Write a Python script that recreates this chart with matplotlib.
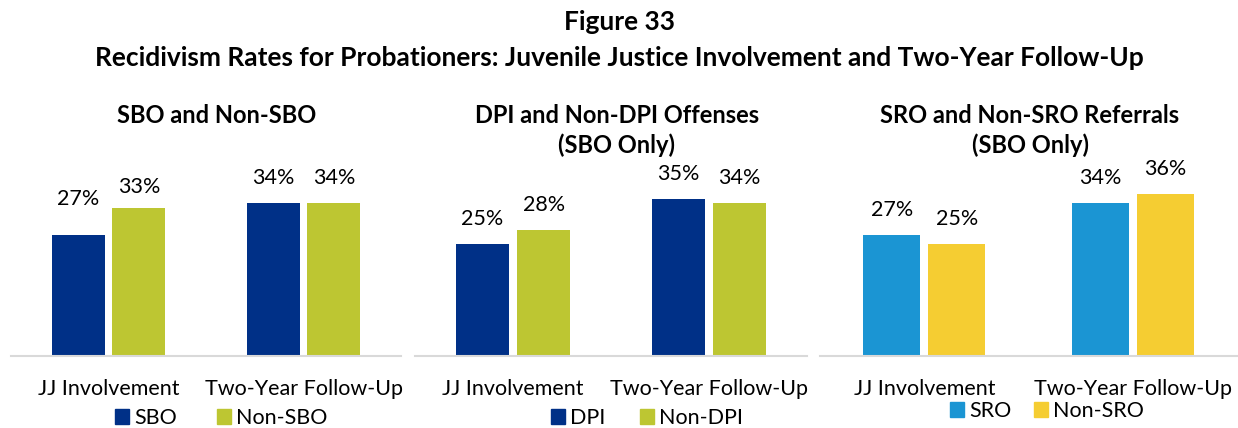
import numpy as np
import matplotlib
matplotlib.use("Agg")
import matplotlib.pyplot as plt
from matplotlib.patches import Patch

plt.rcParams['font.family'] = ['Lato', 'DejaVu Sans']

# Data
categories = ["JJ Involvement", "Two-Year Follow-Up"]

panel_titles = ["SBO and Non-SBO",
                "DPI and Non-DPI Offenses\n(SBO Only)",
                "SRO and Non-SRO Referrals\n(SBO Only)"]
series_names = [("SBO", "Non-SBO"), ("DPI", "Non-DPI"), ("SRO", "Non-SRO")]

sbo_vals = [27, 34]
non_sbo_vals = [33, 34]
dpi_vals = [25, 35]
non_dpi_vals = [28, 34]
sro_vals = [27, 34]
non_sro_vals = [25, 36]

values = [(sbo_vals, non_sbo_vals), (dpi_vals, non_dpi_vals), (sro_vals, non_sro_vals)]

# Colors
dark_blue = '#003087'
olive = '#BDC632'
light_blue = '#1B95D3'
yellow = '#F5CD32'
colors_ = [(dark_blue, olive), (dark_blue, olive), (light_blue, yellow)]

W, H = 1238, 428
fig = plt.figure(figsize=(W / 100, H / 100), dpi=100)

# layout in pixels
boxes = [(11, 390), (415, 392), (820, 417)]
base = 355.5
ax_h = 179
title_x = [217, 617, 1030]
legend_x = [221, 647, 1047]
legend_y = [418, 418, 411]
legend_gap = [1.85, 1.6, 1.05]
# label offsets (points) above bar tops; Excel nudged the first panel's JJ labels
label_off = [[(26, 15), (18, 18)], [(18, 18), (18, 18)], [(18, 18), (18, 18)]]

fig.text(619 / W, 1 - 22 / H, "Figure 33", ha='center', va='center',
         fontsize=19, fontweight='bold')
fig.text(619 / W, 1 - 58 / H,
         "Recidivism Rates for Probationers: Juvenile Justice Involvement and Two-Year Follow-Up",
         ha='center', va='center', fontsize=19, fontweight='bold')

x = np.arange(len(categories))
bw = 0.272
off = 0.156

for i, (left, width) in enumerate(boxes):
    ax = fig.add_axes([left / W, 1 - base / H, width / W, ax_h / H])
    a, b = values[i]
    ca, cb = colors_[i]
    bars1 = ax.bar(x - off, a, bw, color=ca)
    bars2 = ax.bar(x + off, b, bw, color=cb)
    for k, bars in enumerate((bars1, bars2)):
        for j, r in enumerate(bars):
            ax.annotate(f"{r.get_height():.0f}%",
                        (r.get_x() + r.get_width() / 2, r.get_height()),
                        xytext=(0, label_off[i][j][k]), textcoords='offset points',
                        ha='center', va='center', fontsize=15.5)
    ax.set_xlim(-0.5, 1.5)
    ax.set_ylim(0, 40)
    ax.set_xticks(x)
    ax.set_xticklabels(categories, fontsize=15.5)
    ax.tick_params(axis='x', length=0, pad=17)
    ax.set_yticks([])
    for s in ('top', 'right', 'left'):
        ax.spines[s].set_visible(False)
    ax.spines['bottom'].set_color('#D9D9D9')
    ax.spines['bottom'].set_linewidth(1.5)

    fig.text(title_x[i] / W, 1 - 104 / H, panel_titles[i], ha='center', va='top',
             fontsize=17, fontweight='bold', linespacing=1.35)

    handles = [Patch(color=ca, label=series_names[i][0]),
               Patch(color=cb, label=series_names[i][1])]
    fig.legend(handles=handles, loc='center', ncol=2, frameon=False,
               bbox_to_anchor=(legend_x[i] / W, 1 - legend_y[i] / H),
               fontsize=15.5, handlelength=0.65, handleheight=0.65,
               handletextpad=0.25, columnspacing=legend_gap[i],
               borderpad=0, borderaxespad=0)

fig.savefig("out.png", dpi=100)
